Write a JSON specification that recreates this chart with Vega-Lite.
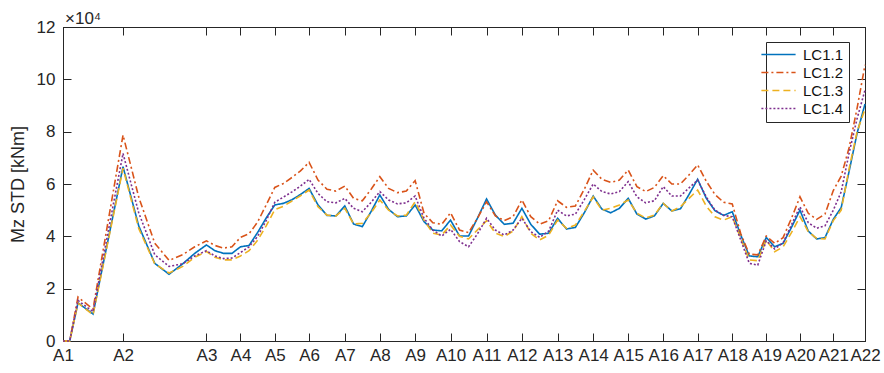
{
"$schema": "https://vega.github.io/schema/vega-lite/v6.json",
"width": 802, "height": 314,
"autosize": {"type": "none"},
"padding": {"left": 63, "top": 27, "right": 19, "bottom": 32},
"background": "white",
"config": {
 "font": "Liberation Sans",
 "view": {"stroke": "#262626", "strokeWidth": 1},
 "axis": {"grid": false, "domainColor": "#262626", "tickColor": "#262626", "labelColor": "#262626", "titleColor": "#262626", "labelFont": "Liberation Sans", "titleFont": "Liberation Sans", "labelFontSize": 17, "titleFontSize": 18, "titleFontWeight": "normal", "tickSize": -8, "labelPadding": 14}
},
"title": {"text": "×10⁴", "anchor": "start", "frame": "group", "offset": 5, "fontSize": 17, "fontWeight": "normal", "font": "Liberation Sans", "color": "#262626", "dx": 2, "dy": 15},
"data": {"values": [
{"x":0,"b":0,"o":0,"y":0,"p":0},
{"x":6.7,"b":0,"o":0,"y":0,"p":0},
{"x":15,"b":14600,"o":16800,"y":14500,"p":15500},
{"x":30,"b":10300,"o":12200,"y":10000,"p":11200},
{"x":45,"b":38500,"o":45500,"y":38000,"p":41500},
{"x":60,"b":66600,"o":78700,"y":66000,"p":71700},
{"x":75.7,"b":44000,"o":55000,"y":43000,"p":49000},
{"x":91.7,"b":29700,"o":37400,"y":29500,"p":33000},
{"x":106,"b":25500,"o":30800,"y":26000,"p":28500},
{"x":119.7,"b":29500,"o":33000,"y":28500,"p":29500},
{"x":131.7,"b":33500,"o":36000,"y":32000,"p":32500},
{"x":143.4,"b":36700,"o":38300,"y":34200,"p":34500},
{"x":151.9,"b":34500,"o":36500,"y":32000,"p":32500},
{"x":160.4,"b":33500,"o":35500,"y":31000,"p":31500},
{"x":168.9,"b":33500,"o":36000,"y":31000,"p":31700},
{"x":177.4,"b":36000,"o":39600,"y":32500,"p":33800},
{"x":186,"b":36500,"o":41000,"y":34500,"p":36000},
{"x":194.6,"b":41500,"o":45500,"y":38500,"p":40000},
{"x":203.1,"b":47000,"o":52000,"y":44000,"p":46000},
{"x":211.7,"b":52000,"o":58700,"y":50200,"p":53000},
{"x":220.3,"b":52600,"o":60200,"y":51500,"p":55000},
{"x":228.9,"b":54000,"o":62500,"y":53500,"p":57000},
{"x":237.4,"b":56000,"o":65000,"y":55500,"p":59200},
{"x":246,"b":58300,"o":68300,"y":57700,"p":61800},
{"x":254.9,"b":52000,"o":61500,"y":51300,"p":56400},
{"x":263.9,"b":48000,"o":58000,"y":48100,"p":53200},
{"x":272.8,"b":47800,"o":57300,"y":47800,"p":52800},
{"x":281.7,"b":51600,"o":59200,"y":50700,"p":54500},
{"x":290.5,"b":44700,"o":54500,"y":44700,"p":50700},
{"x":299.2,"b":43700,"o":53600,"y":45000,"p":49400},
{"x":308,"b":49500,"o":58000,"y":49000,"p":53000},
{"x":316.7,"b":55800,"o":62800,"y":53900,"p":57100},
{"x":325.5,"b":50300,"o":58300,"y":50000,"p":53900},
{"x":334.4,"b":47500,"o":56700,"y":47800,"p":52400},
{"x":343.2,"b":47800,"o":57300,"y":48100,"p":52800},
{"x":352,"b":52000,"o":61300,"y":53200,"p":55400},
{"x":360.9,"b":45600,"o":48800,"y":46200,"p":46900},
{"x":369.7,"b":42400,"o":45200,"y":41200,"p":42400},
{"x":378.6,"b":42100,"o":44600,"y":40500,"p":40100},
{"x":387.4,"b":46200,"o":49000,"y":44300,"p":42700},
{"x":396.4,"b":40100,"o":42400,"y":40000,"p":38000},
{"x":405.4,"b":40100,"o":41400,"y":39000,"p":36000},
{"x":414.4,"b":47000,"o":47000,"y":42500,"p":41000},
{"x":423.4,"b":54300,"o":53200,"y":46000,"p":46900},
{"x":432.2,"b":48100,"o":47800,"y":41200,"p":42400},
{"x":441.1,"b":44600,"o":46000,"y":39900,"p":40500},
{"x":449.9,"b":45000,"o":47500,"y":42000,"p":42400},
{"x":458.7,"b":50700,"o":53900,"y":47500,"p":46900},
{"x":467.6,"b":44600,"o":47500,"y":41200,"p":41800},
{"x":476.5,"b":40800,"o":44700,"y":38600,"p":39600},
{"x":485.5,"b":41200,"o":46000,"y":40500,"p":42000},
{"x":494.4,"b":46900,"o":53600,"y":46200,"p":50000},
{"x":503.3,"b":42800,"o":51100,"y":43100,"p":47800},
{"x":512.2,"b":43400,"o":51600,"y":44300,"p":48500},
{"x":521.1,"b":49000,"o":58000,"y":49500,"p":54000},
{"x":530,"b":55400,"o":65300,"y":55100,"p":60000},
{"x":538.7,"b":50400,"o":61800,"y":50000,"p":57100},
{"x":547.5,"b":49000,"o":60600,"y":50700,"p":56200},
{"x":556.2,"b":50700,"o":61500,"y":52000,"p":57100},
{"x":565,"b":54500,"o":65300,"y":53900,"p":60900},
{"x":573.7,"b":48500,"o":59000,"y":48800,"p":55100},
{"x":582.5,"b":46600,"o":57100,"y":47000,"p":52800},
{"x":591.2,"b":47800,"o":58700,"y":48100,"p":53600},
{"x":600,"b":52600,"o":63200,"y":52600,"p":59000},
{"x":608.6,"b":49700,"o":60000,"y":49700,"p":55400},
{"x":617.2,"b":50500,"o":60000,"y":51300,"p":55400},
{"x":625.8,"b":56000,"o":63500,"y":54500,"p":58500},
{"x":634.4,"b":61800,"o":67300,"y":57700,"p":61500},
{"x":643.1,"b":54500,"o":61000,"y":51500,"p":55000},
{"x":651.7,"b":49800,"o":56000,"y":47500,"p":50000},
{"x":660.4,"b":48000,"o":53000,"y":46200,"p":48000},
{"x":669,"b":49400,"o":52400,"y":47500,"p":47500},
{"x":677.5,"b":40500,"o":41000,"y":39200,"p":38600},
{"x":686,"b":32500,"o":33200,"y":31000,"p":29700},
{"x":694.5,"b":32200,"o":32900,"y":30700,"p":29000},
{"x":703,"b":39600,"o":40100,"y":38600,"p":38300},
{"x":711.4,"b":36000,"o":37300,"y":34100,"p":35200},
{"x":719.8,"b":37300,"o":39500,"y":36000,"p":37500},
{"x":728.3,"b":43500,"o":47000,"y":41500,"p":44500},
{"x":736.7,"b":50000,"o":55100,"y":47500,"p":51300},
{"x":745,"b":42000,"o":48800,"y":41800,"p":45200},
{"x":753.4,"b":39000,"o":46500,"y":39200,"p":43100},
{"x":761.7,"b":39500,"o":48500,"y":39000,"p":44000},
{"x":770,"b":46500,"o":57500,"y":46000,"p":50000},
{"x":777.9,"b":51000,"o":63000,"y":50000,"p":57000},
{"x":785.9,"b":65000,"o":74000,"y":66000,"p":72000},
{"x":793.8,"b":79400,"o":89000,"y":80000,"p":85000},
{"x":801.7,"b":90600,"o":105500,"y":88700,"p":95900}
]},
"transform": [{"fold": ["b", "o", "y", "p"], "as": ["s", "v"]}],
"layer": [
 {
  "mark": {"type": "line", "strokeWidth": 1.6},
  "encoding": {
   "x": {"field": "x", "type": "quantitative",
     "scale": {"domain": [0, 801.7], "nice": false, "zero": false},
     "axis": {"orient": "bottom", "title": null, "values": [0,60,143.4,177.4,211.7,246,281.7,316.7,352,387.4,423.4,458.7,494.4,530,565,600,634.4,669,703,736.7,770,801.7],
       "labelExpr": "'A' + (indexof([0,60,143.4,177.4,211.7,246,281.7,316.7,352,387.4,423.4,458.7,494.4,530,565,600,634.4,669,703,736.7,770,801.7], datum.value) + 1)",
       "labelFlush": false, "labelOverlap": false}},
   "y": {"field": "v", "type": "quantitative",
     "scale": {"domain": [0, 120000], "nice": false},
     "axis": {"orient": "left", "title": "Mz STD [kNm]", "values": [0,20000,40000,60000,80000,100000,120000], "labelExpr": "datum.value / 10000", "labelPadding": 16, "titlePadding": 9}},
   "color": {"field": "s", "type": "nominal",
     "scale": {"domain": ["b", "o", "y", "p"], "range": ["#0072BD", "#D95319", "#EDB120", "#7E2F8E"]},
     "legend": {"title": null, "orient": "none", "legendX": 703, "legendY": 15,
       "labelExpr": "datum.label == 'b' ? 'LC1.1' : datum.label == 'o' ? 'LC1.2' : datum.label == 'y' ? 'LC1.3' : 'LC1.4'",
       "strokeColor": "#262626", "fillColor": "white", "padding": 5,
       "symbolType": "M-3,0H3", "symbolSize": 130, "symbolStrokeWidth": 1.6,
       "labelFontSize": 15, "labelFont": "Liberation Sans", "labelColor": "#111", "labelOffset": 17, "rowPadding": 2}},
   "strokeDash": {"field": "s", "type": "nominal",
     "scale": {"domain": ["b", "o", "y", "p"], "range": [[1, 0], [7, 3, 2, 3], [7, 4], [2, 2]]},
     "legend": null}
  }
 },
 {
  "mark": {"type": "point", "opacity": 0},
  "encoding": {
   "x": {"field": "x", "type": "quantitative",
     "axis": {"orient": "top", "title": null, "labels": false, "values": [0,60,143.4,177.4,211.7,246,281.7,316.7,352,387.4,423.4,458.7,494.4,530,565,600,634.4,669,703,736.7,770,801.7]}},
   "y": {"field": "v", "type": "quantitative",
     "axis": {"orient": "right", "title": null, "labels": false, "values": [0,20000,40000,60000,80000,100000,120000]}}
  }
 }
],
"resolve": {"axis": {"x": "independent", "y": "independent"}}
}
